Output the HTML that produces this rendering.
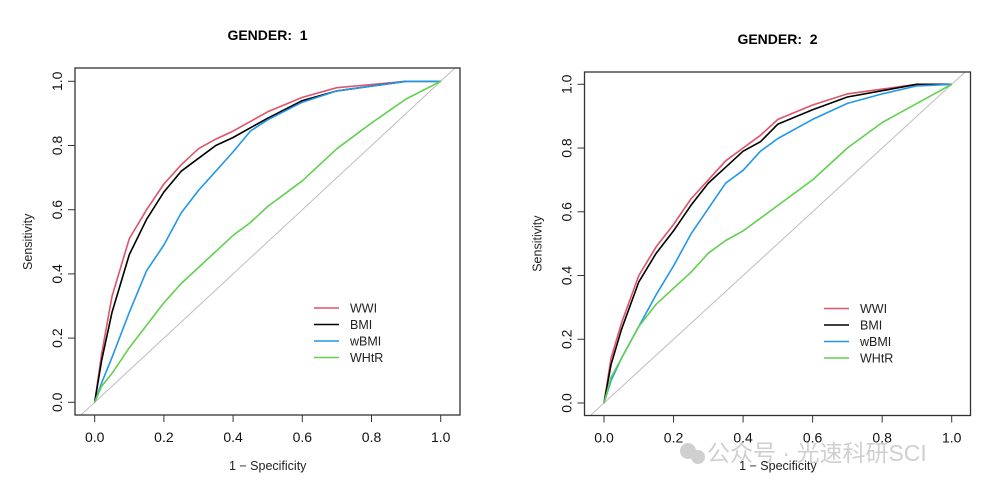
<!DOCTYPE html>
<html><head><meta charset="utf-8"><style>
body{margin:0;background:#fff;width:1008px;height:490px;overflow:hidden}
svg{display:block;font-family:"Liberation Sans",Arial,sans-serif}
</style></head><body>
<svg id="chart" width="1008" height="490" viewBox="0 0 1008 490">
<g opacity="0.8">
<circle cx="688" cy="451" r="8" fill="#c4c4c4"/><circle cx="698" cy="457" r="7" fill="#c4c4c4"/>
<text x="707" y="461" font-family="'Liberation Sans','Noto Sans CJK SC',sans-serif" font-size="23" fill="#c4c4c4">公众号 · 光速科研SCI</text>
</g>
</svg>
<script>
const fprGrid = [0,0.02,0.05,0.1,0.15,0.2,0.25,0.3,0.35,0.4,0.45,0.5,0.6,0.7,0.8,0.9,1];
const g1WWI  = [0,0.15,0.33,0.51,0.60,0.68,0.74,0.79,0.82,0.845,0.875,0.905,0.95,0.98,0.99,1,1];
const g1BMI  = [0,0.13,0.28,0.46,0.57,0.655,0.72,0.76,0.80,0.825,0.855,0.885,0.94,0.97,0.985,1,1];
const g1wBMI = [0,0.06,0.14,0.28,0.41,0.49,0.59,0.66,0.72,0.78,0.845,0.88,0.935,0.97,0.985,1,1];
const g1WHtR = [0,0.05,0.09,0.17,0.24,0.31,0.37,0.42,0.47,0.52,0.56,0.61,0.69,0.79,0.87,0.945,1];
const g2WWI  = [0,0.14,0.25,0.40,0.49,0.56,0.64,0.70,0.76,0.80,0.84,0.89,0.935,0.97,0.985,1,1];
const g2BMI  = [0,0.12,0.23,0.38,0.47,0.54,0.62,0.69,0.74,0.79,0.82,0.875,0.92,0.96,0.98,1,1];
const g2wBMI = [0,0.07,0.14,0.24,0.34,0.43,0.53,0.61,0.69,0.73,0.79,0.83,0.89,0.94,0.97,0.995,1];
const g2WHtR = [0,0.08,0.14,0.24,0.31,0.36,0.41,0.47,0.51,0.54,0.58,0.62,0.70,0.80,0.88,0.94,1];
const seriesNames = ["WWI","BMI","wBMI","WHtR"];
const seriesColors = ["#df536b","#000000","#2297e6","#61d04f"];
const tickLabels = ["0.0","0.2","0.4","0.6","0.8","1.0"];
const tickValues = [0,0.2,0.4,0.6,0.8,1];
const svg = document.getElementById('chart');
const NS = "http://www.w3.org/2000/svg";
function mk(tag, attrs, parent){const e=document.createElementNS(NS,tag);for(const k in attrs)e.setAttribute(k,attrs[k]);(parent||svg).appendChild(e);return e;}
function panel(id, P, title, data){
  const g = mk('g',{});
  
  
  const sx = v => P.x0 + v*(P.x1-P.x0);
  const sy = v => P.y0 - v*(P.y0-P.y1);
  const clipId='clip'+id;
  const cp=mk('clipPath',{id:clipId},g); mk('rect',{x:P.L,y:P.T,width:P.R-P.L,height:P.B-P.T},cp);
  const t=mk('text',{x:(P.L+P.R)/2,y:P.ty,'text-anchor':'middle','font-size':14,'font-weight':'bold'},g);
  t.textContent=title;
  
  
  const diag=mk('line',{x1:sx(-0.2),y1:sy(-0.2),x2:sx(1.2),y2:sy(1.2),stroke:'#bebebe','stroke-width':1,'clip-path':'url(#'+clipId+')'},g);
  
  
  data.forEach((arr,i)=>{
    const pts=fprGrid.map((f,j)=>sx(f).toFixed(1)+','+sy(arr[j]).toFixed(1)).join(' ');
    const pl=mk('polyline',{points:pts,fill:'none',stroke:seriesColors[i],'stroke-width':1.6,'stroke-linejoin':'round'},g);
    
    
  });
  const box=mk('rect',{x:P.L,y:P.T,width:P.R-P.L,height:P.B-P.T,fill:'none',stroke:'#333','stroke-width':1.3},g);
  
  
  tickValues.forEach((v,i)=>{
    mk('line',{x1:sx(v),y1:P.B,x2:sx(v),y2:P.B+7,stroke:'#333'},g);
    const xl=mk('text',{x:sx(v),y:P.B+27,'text-anchor':'middle','font-size':14,fill:'#111'},g);
    xl.textContent=tickLabels[i];
    
    
    mk('line',{x1:P.L,y1:sy(v),x2:P.L-7,y2:sy(v),stroke:'#333'},g);
    const yl=mk('text',{x:0,y:0,'text-anchor':'middle','font-size':14,fill:'#111',transform:`translate(${P.L-13},${sy(v)}) rotate(-90)`},g);
    yl.textContent=tickLabels[i];
    
    
  });
  const xt=mk('text',{x:(P.x0+P.x1)/2,y:470,'text-anchor':'middle','font-size':12.5,fill:'#222'},g);
  xt.textContent='1 − Specificity';
  
  
  const yt=mk('text',{x:0,y:0,'text-anchor':'middle','font-size':12.5,fill:'#222',transform:`translate(${P.L-43},${(P.y0+P.y1)/2}) rotate(-90)`},g);
  yt.textContent='Sensitivity';
  
  
  seriesNames.forEach((n,i)=>{
    const y=P.ly+i*16.5;
    const ll=mk('line',{x1:P.lx,y1:y,x2:P.lx+25,y2:y,stroke:seriesColors[i],'stroke-width':1.5},g);
    
    
    const lt=mk('text',{x:P.lx+36,y:y+4.5,'font-size':12.5,fill:'#222'},g);
    lt.textContent=n;
    
    
  });
}
panel(1,{L:75,T:68,R:460,B:415,x0:94.7,x1:440.7,y0:402.3,y1:81.3,ty:40,lx:314,ly:308},'GENDER:\u00a0\u00a01',[g1WWI,g1BMI,g1wBMI,g1WHtR]);
panel(2,{L:584.5,T:72,R:970.5,B:415.5,x0:604,x1:951.7,y0:403,y1:84.3,ty:44,lx:824,ly:308.5},'GENDER:\u00a0\u00a02',[g2WWI,g2BMI,g2wBMI,g2WHtR]);
</script>
</body></html>
